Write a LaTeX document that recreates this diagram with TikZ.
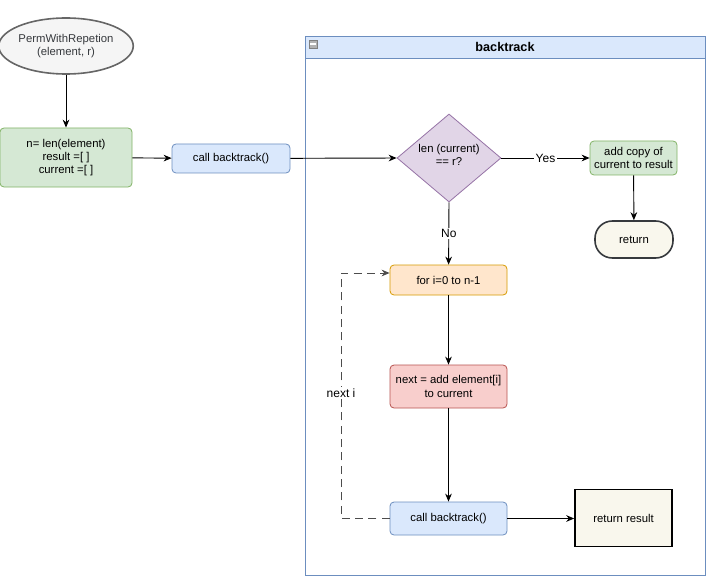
\documentclass[tikz,border=0pt]{standalone}
\usepackage{fontspec}
\setmainfont{Liberation Sans}
\usetikzlibrary{shapes.geometric,arrows.meta}
\definecolor{gF}{HTML}{D5E8D4}\definecolor{gD}{HTML}{82B366}
\definecolor{bF}{HTML}{DAE8FC}\definecolor{bD}{HTML}{6C8EBF}
\definecolor{pF}{HTML}{E1D5E7}\definecolor{pD}{HTML}{9673A6}
\definecolor{oF}{HTML}{FFE6CC}\definecolor{oD}{HTML}{D79B00}
\definecolor{rF}{HTML}{F8CECC}\definecolor{rD}{HTML}{B85450}
\definecolor{yF}{HTML}{F9F7ED}\definecolor{dk}{HTML}{36393D}
\begin{document}
\begin{tikzpicture}[x=0.75pt,y=-0.75pt,font=\fontsize{8.5}{10}\selectfont,
 box/.style={draw,rounded corners=3pt,align=center,inner sep=0pt,line width=0.6pt},
 arr/.style={-{Stealth[length=6pt,width=5pt]},line width=0.7pt},
 lbl/.style={fill=white,inner sep=1pt,font=\fontsize{9}{10}\selectfont}]
\useasboundingbox (0,0) rectangle (712,577);
% container
\node[draw=bD,fill=white,minimum width=400*0.75pt,minimum height=539*0.75pt,inner sep=0pt,line width=0.6pt] (cont) at (505,305.5) {};
\node[draw=bD,fill=bF,minimum width=400*0.75pt,minimum height=22*0.75pt,inner sep=0pt,line width=0.6pt,font=\bfseries\fontsize{9.5}{11}\selectfont] (hdr) at (505,47) {backtrack};
\node[draw=gray,fill=gray!60,minimum width=6pt,minimum height=6pt,inner sep=0pt] (mini) at (313,44) {};
\draw[white,line width=0.8pt] (310,44) -- (316,44);
% nodes
\node[ellipse,draw=black!60,fill=black!4,line width=1.2pt,minimum width=132*0.75pt,minimum height=56*0.75pt,align=center,inner sep=0pt,text=dk] (start) at (66,46) {PermWithRepetion\\(element, r)};
\node[box,draw=gD,fill=gF,minimum width=132*0.75pt,minimum height=59*0.75pt] (init) at (66,157.5) {n= len(element)\\result =[ ]\\current =[ ]};
\node[box,draw=bD,fill=bF,minimum width=118*0.75pt,minimum height=29*0.75pt] (call1) at (231,158.5) {call backtrack()};
\node[diamond,draw=pD,fill=pF,aspect=1.18,minimum width=104*0.75pt,minimum height=88*0.75pt,inner sep=0pt,line width=0.6pt] (dec) at (449,158) {};
\node[align=center] (dect) at (449,155) {len (current)\\== r?};
\node[box,draw=gD,fill=gF,minimum width=87*0.75pt,minimum height=34*0.75pt] (add) at (633.5,158) {add copy of\\current to result};
\node[draw=dk,fill=yF,rounded corners=13pt,line width=1.2pt,minimum width=78*0.75pt,minimum height=37*0.75pt,inner sep=0pt] (ret) at (634,239.5) {return};
\node[box,draw=oD,fill=oF,minimum width=117*0.75pt,minimum height=30*0.75pt] (for) at (448.5,280) {for i=0 to n-1};
\node[box,draw=rD,fill=rF,minimum width=117*0.75pt,minimum height=43*0.75pt] (next) at (448.5,386.5) {next = add element[i]\\to current};
\node[box,draw=bD,fill=bF,minimum width=117*0.75pt,minimum height=33*0.75pt] (call2) at (448.5,518.5) {call backtrack()};
\node[cylinder,shape border rotate=90,aspect=0.25,draw=black,fill=yF,line width=1.2pt,minimum width=97*0.75pt,minimum height=57*0.75pt,inner sep=0pt] (res) at (623.5,518.5) {};
\node (rest) at (623.5,518) {return result};
\coordinate (c1) at (341,518.5);
\coordinate (c2) at (341,273);
% edges
\draw[arr] (start) -- (init);
\draw[arr] (init) -- (call1);
\draw[arr] (call1) -- (dec.west);
\draw[arr] (dec.east) -- node[lbl]{Yes} (add);
\draw[arr] (add) -- (ret);
\draw[arr] (dec.south) -- node[lbl]{No} (for);
\draw[arr] (for) -- (next);
\draw[arr] (next) -- (call2);
\draw[arr] (call2) -- (res);
\draw[arr,dash pattern=on 6pt off 4pt,draw=black!70] (call2.west) -- (c1) -- (c2) -- (for.west|-c2);
\node[lbl] (ni) at (341,393) {next i};
\end{tikzpicture}
\end{document}
